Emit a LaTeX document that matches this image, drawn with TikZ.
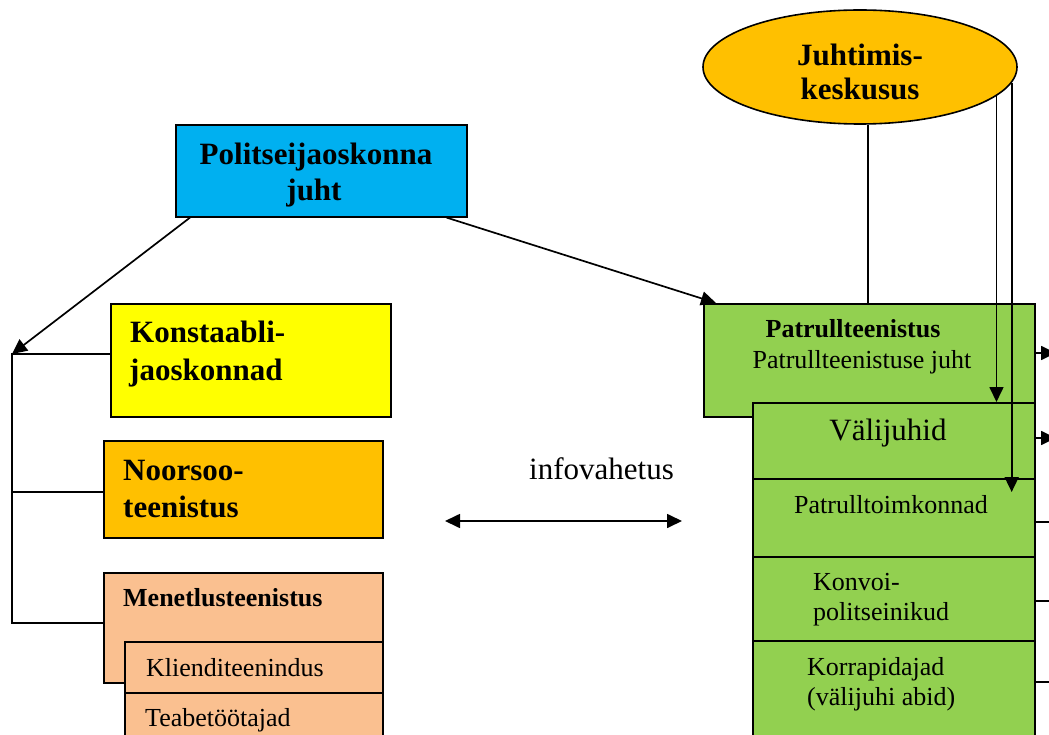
\documentclass[tikz,border=0pt]{standalone}
\usepackage{fontspec}
\setmainfont{Liberation Serif}
\usetikzlibrary{arrows.meta,calc,shapes.geometric}
\definecolor{cblue}{HTML}{00B0F0}
\definecolor{cyellow}{HTML}{FFFF00}
\definecolor{corange}{HTML}{FFC000}
\definecolor{cpeach}{HTML}{FAC090}
\definecolor{cgreen}{HTML}{92D050}
\begin{document}
\begin{tikzpicture}[x=1pt,y=-1pt,
  box/.style={draw,line width=1.6pt,inner sep=0pt,anchor=north west},
  big/.style={font=\fontsize{31}{37}\selectfont\bfseries,inner sep=0pt},
  bigr/.style={font=\fontsize{31}{37}\selectfont,inner sep=0pt},
  med/.style={font=\fontsize{26}{30}\selectfont,inner sep=0pt},
  medb/.style={font=\fontsize{26}{30}\selectfont\bfseries,inner sep=0pt},
  ln/.style={line width=1.7pt},
  arr/.style={line width=1.7pt,-{Triangle[length=15pt,width=14pt]}},
  darr/.style={line width=1.7pt,{Triangle[length=15pt,width=14pt]}-{Triangle[length=15pt,width=14pt]}}]
\useasboundingbox (0,0) rectangle (1049,735);
\clip (0,0) rectangle (1049,735);

% ---- boxes ----
\node[box,fill=cblue,minimum width=291pt,minimum height=92pt] (pol) at (175,124) {};
\node[box,fill=cyellow,minimum width=280pt,minimum height=113pt] (kon) at (110,303) {};
\node[box,fill=corange,minimum width=279pt,minimum height=97pt] (noo) at (103,440) {};
\node[box,fill=cpeach,minimum width=279pt,minimum height=110pt] (men) at (103,572) {};
\node[box,fill=cpeach,minimum width=258pt,minimum height=51pt] (kli) at (124,641) {};
\node[box,fill=cpeach,minimum width=258pt,minimum height=70pt] (tea) at (124,692) {};

\node[box,fill=cgreen,minimum width=331pt,minimum height=113pt] (pat) at (703,303) {};
\node[box,fill=cgreen,minimum width=282pt,minimum height=76pt] (val) at (752,402) {};
\node[box,fill=cgreen,minimum width=282pt,minimum height=78pt] (ptk) at (752,478) {};
\node[box,fill=cgreen,minimum width=282pt,minimum height=84pt] (kvp) at (752,556) {};
\node[box,fill=cgreen,minimum width=282pt,minimum height=110pt] (kor) at (752,640) {};

\node[draw,ellipse,fill=corange,line width=1.6pt,inner sep=0pt,
      minimum width=314pt,minimum height=114pt] (ell) at (860,67) {};

% ---- texts ----
\node[big,anchor=base] (polt1) at (316,165) {Politseijaoskonna};
\node[big,anchor=base] (polt2) at (314,201) {juht};
\node[big,anchor=base] (ellt1) at (860,66) {Juhtimis-};
\node[big,anchor=base] (ellt2) at (860,100) {keskusus};
\node[big,anchor=base west] (kont1) at (130,342) {Konstaabli-};
\node[big,anchor=base west] (kont2) at (129,380) {jaoskonnad};
\node[big,anchor=base west] (noot1) at (123,480) {Noorsoo-};
\node[big,anchor=base west] (noot2) at (123,517) {teenistus};
\node[medb,anchor=base west] (ment) at (123,606) {Menetlusteenistus};
\node[med,anchor=base west] (klit) at (146,676) {Klienditeenindus};
\node[med,anchor=base west] (teat) at (145,726) {Teabetöötajad};

\node[medb,anchor=base] (patt1) at (853,337) {Patrullteenistus};
\node[med,anchor=base] (patt2) at (862,368) {Patrullteenistuse juht};
\node[bigr,anchor=base] (valt) at (888,440) {Välijuhid};
\node[med,anchor=base] (ptkt) at (891,513) {Patrulltoimkonnad};
\node[med,anchor=base west] (kvpt1) at (813,590) {Konvoi-};
\node[med,anchor=base west] (kvpt2) at (813,620) {politseinikud};
\node[med,anchor=base west] (kort1) at (807,675) {Korrapidajad};
\node[med,anchor=base west] (kort2) at (807,705) {(välijuhi abid)};

\node[bigr,anchor=base] (info) at (601.5,479) {infovahetus};

% ---- connectors ----
\draw[arr] ([xshift=15pt]pol.south west) -- (12,354) coordinate (brk);
\draw[arr] ([xshift=-21pt]pol.south east) -- ([xshift=13pt]pat.north west);

\coordinate (b2) at (12,492);
\coordinate (b3) at (12,623);
\draw[ln] (brk -| kon.west) -- (brk) -- (b3) -- (b3 -| men.west);
\draw[ln] (b2) -- (b2 -| noo.west);

\coordinate (il) at (445,521);
\coordinate (ir) at (682,521);
\draw[darr] (il) -- (ir);

% from Juhtimiskeskusus
\draw[ln] (ell.-82) -- (ell.-82 |- pat.north);
\draw[arr] (ell.-12.5) -- (ell.-12.5 |- val.north);
\coordinate (t2) at (1009,492);
\draw[arr] (ell.-6.9) -- (ell.-6.9 |- t2);

% right stubs
\coordinate (r1) at (1056,353);
\coordinate (r2) at (1056,438);
\draw[arr] (r1 -| pat.east) -- (r1);
\draw[arr] (r2 -| val.east) -- (r2);
\coordinate (r3) at (1056,522);
\coordinate (r4) at (1056,601);
\coordinate (r5) at (1056,682);
\draw[ln] (r3 -| ptk.east) -- (r3);
\draw[ln] (r4 -| kvp.east) -- (r4);
\draw[ln] (r5 -| kor.east) -- (r5);
\end{tikzpicture}
\end{document}
